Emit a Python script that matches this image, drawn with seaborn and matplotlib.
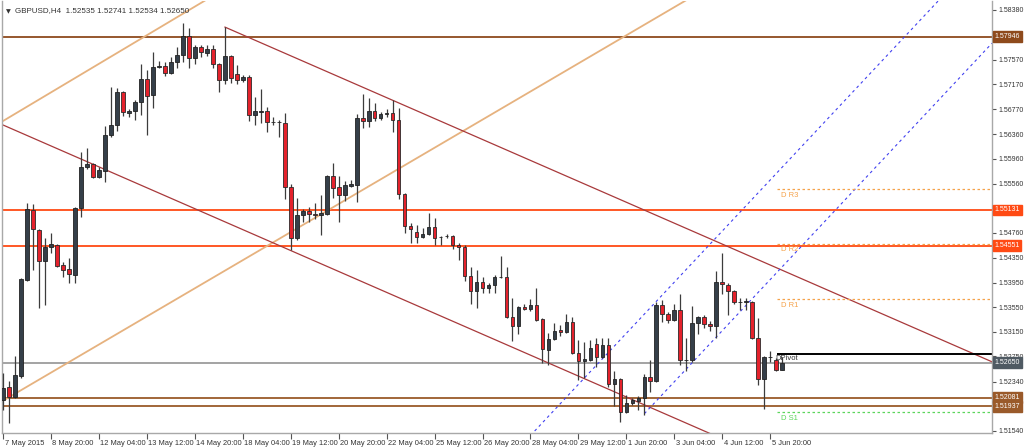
import numpy as np
import matplotlib
matplotlib.use("Agg")
import matplotlib.pyplot as plt
import matplotlib.transforms as mtrans
import seaborn as sns

# ---------------- data ----------------
opens = [1.52042, 1.52253, 1.52091, 1.52432, 1.53992, 1.55130, 1.54805, 1.54301, 1.54528, 1.54561,
         1.54236, 1.54171, 1.54073, 1.55162, 1.55828, 1.55877, 1.55666, 1.55763, 1.56348, 1.56511,
         1.57047, 1.56706, 1.56738, 1.56885, 1.57258, 1.56998, 1.57453, 1.57470, 1.57356, 1.57535,
         1.57648, 1.57957, 1.57600, 1.57778, 1.57681, 1.57746, 1.57502, 1.57242, 1.57632, 1.57340,
         1.57242, 1.57291, 1.56673, 1.56730, 1.56738, 1.56560, 1.56552, 1.56543, 1.55503, 1.54675,
         1.55048, 1.55113, 1.55065, 1.55048, 1.55065, 1.55682, 1.55503, 1.55373, 1.55520, 1.55536,
         1.56625, 1.56576, 1.56738, 1.56625, 1.56690, 1.56706, 1.56592, 1.55390, 1.54870, 1.54772,
         1.54691, 1.54740, 1.54853, 1.54691, 1.54700, 1.54707, 1.54561, 1.54528, 1.54057, 1.53813,
         1.53960, 1.53862, 1.53911, 1.54041, 1.54041, 1.53391, 1.53245, 1.53553, 1.53521, 1.53586,
         1.53358, 1.52855, 1.53033, 1.53180, 1.53147, 1.53310, 1.52806, 1.52676, 1.52692, 1.52952,
         1.52741, 1.52936, 1.52302, 1.52383, 1.51847, 1.51993, 1.52026, 1.52075, 1.52416, 1.52351,
         1.53586, 1.53440, 1.53342, 1.53505, 1.52692, 1.52692, 1.53293, 1.53391, 1.53277, 1.53245,
         1.53960, 1.53911, 1.53813, 1.53627, 1.53630, 1.53635, 1.53050, 1.52383, 1.52741, 1.52692,
         1.52535]
highs = [1.52481, 1.52351, 1.52757, 1.54025, 1.55243, 1.55227, 1.54821, 1.54675, 1.54756, 1.54577,
         1.54285, 1.54350, 1.55178, 1.56072, 1.56137, 1.55893, 1.55828, 1.56495, 1.57128, 1.57112,
         1.57063, 1.56771, 1.56917, 1.57502, 1.57405, 1.57697, 1.57551, 1.57535, 1.57616, 1.57778,
         1.58168, 1.58087, 1.57811, 1.57811, 1.57811, 1.57811, 1.57518, 1.58103, 1.57648, 1.57486,
         1.57323, 1.57323, 1.56966, 1.57096, 1.56803, 1.56641, 1.56592, 1.56706, 1.55552, 1.55325,
         1.55146, 1.55178, 1.55243, 1.55373, 1.55698, 1.55893, 1.55682, 1.55601, 1.55617, 1.56690,
         1.57015, 1.56950, 1.56868, 1.56722, 1.56771, 1.56917, 1.56787, 1.55406, 1.54918, 1.54886,
         1.54837, 1.55081, 1.54999, 1.54707, 1.54740, 1.54723, 1.54593, 1.54561, 1.54203, 1.54155,
         1.54041, 1.53943, 1.54073, 1.54382, 1.54203, 1.53700, 1.53570, 1.53602, 1.53683, 1.53862,
         1.53375, 1.53131, 1.53293, 1.53261, 1.53440, 1.53391, 1.53017, 1.52985, 1.53017, 1.53050,
         1.53050, 1.53050, 1.52513, 1.52400, 1.52123, 1.52075, 1.52107, 1.52465, 1.52692, 1.53635,
         1.53667, 1.53472, 1.53602, 1.53765, 1.53050, 1.53570, 1.53407, 1.53423, 1.53326, 1.54138,
         1.54431, 1.53943, 1.53830, 1.53700, 1.53700, 1.53651, 1.53375, 1.52757, 1.52838, 1.52725,
         1.52741]
lows = [1.51880, 1.51668, 1.52075, 1.52400, 1.53976, 1.54155, 1.53537, 1.53586, 1.54431, 1.54203,
        1.54041, 1.53943, 1.53943, 1.55016, 1.55796, 1.55650, 1.55650, 1.55585, 1.56316, 1.56413,
        1.56657, 1.56641, 1.56592, 1.56673, 1.56348, 1.56787, 1.57437, 1.57307, 1.57340, 1.57437,
        1.57535, 1.57437, 1.57502, 1.57616, 1.57632, 1.57437, 1.57047, 1.57177, 1.57193, 1.57177,
        1.57210, 1.56576, 1.56511, 1.56543, 1.56397, 1.56511, 1.56316, 1.55308, 1.54480, 1.54642,
        1.54935, 1.54935, 1.54983, 1.54723, 1.55048, 1.55325, 1.54935, 1.55276, 1.55503, 1.55260,
        1.56462, 1.56478, 1.56576, 1.56592, 1.56641, 1.56397, 1.55308, 1.54756, 1.54593, 1.54593,
        1.54675, 1.54723, 1.54561, 1.54561, 1.54675, 1.54496, 1.54317, 1.53976, 1.53602, 1.53537,
        1.53781, 1.53781, 1.53781, 1.54025, 1.53375, 1.53001, 1.53115, 1.53505, 1.53488, 1.53326,
        1.52643, 1.52611, 1.53017, 1.53082, 1.53131, 1.52790, 1.52367, 1.52400, 1.52676, 1.52578,
        1.52725, 1.52253, 1.51945, 1.51685, 1.51831, 1.51961, 1.51880, 1.51798, 1.52172, 1.52335,
        1.53310, 1.53293, 1.53326, 1.52611, 1.52513, 1.52660, 1.53115, 1.53212, 1.53163, 1.53050,
        1.53765, 1.53423, 1.53602, 1.53505, 1.53505, 1.53033, 1.52286, 1.51896, 1.52660, 1.52513,
        1.52534]
closes = [1.52237, 1.52091, 1.52448, 1.54008, 1.55146, 1.54821, 1.54301, 1.54528, 1.54577, 1.54220,
          1.54155, 1.54090, 1.55162, 1.55828, 1.55877, 1.55666, 1.55780, 1.56348, 1.56511, 1.57047,
          1.56722, 1.56738, 1.56885, 1.57258, 1.56982, 1.57453, 1.57470, 1.57356, 1.57535, 1.57648,
          1.57957, 1.57600, 1.57778, 1.57697, 1.57746, 1.57502, 1.57242, 1.57632, 1.57275, 1.57242,
          1.57291, 1.56673, 1.56738, 1.56738, 1.56560, 1.56552, 1.56565, 1.55503, 1.54675, 1.55048,
          1.55113, 1.55065, 1.55048, 1.55081, 1.55682, 1.55487, 1.55373, 1.55536, 1.55552, 1.56625,
          1.56576, 1.56738, 1.56625, 1.56690, 1.56706, 1.56592, 1.55390, 1.54870, 1.54821, 1.54691,
          1.54740, 1.54853, 1.54675, 1.54683, 1.54707, 1.54561, 1.54528, 1.54057, 1.53813, 1.53960,
          1.53862, 1.53911, 1.54041, 1.54049, 1.53391, 1.53245, 1.53553, 1.53521, 1.53586, 1.53342,
          1.52871, 1.53033, 1.53163, 1.53147, 1.53310, 1.52806, 1.52676, 1.52708, 1.52887, 1.52741,
          1.52936, 1.52302, 1.52383, 1.51847, 1.51993, 1.52042, 1.52075, 1.52416, 1.52351, 1.53586,
          1.53440, 1.53342, 1.53505, 1.52692, 1.52700, 1.53293, 1.53391, 1.53277, 1.53245, 1.53960,
          1.53927, 1.53813, 1.53635, 1.53640, 1.53643, 1.53050, 1.52383, 1.52741, 1.52749, 1.52530,
          1.52650]

x_tick_labels = ["7 May 2015", "8 May 20:00", "12 May 04:00", "13 May 12:00", "14 May 20:00",
                 "18 May 04:00", "19 May 12:00", "20 May 20:00", "22 May 04:00", "25 May 12:00",
                 "26 May 20:00", "28 May 04:00", "29 May 12:00", "1 Jun 20:00", "3 Jun 04:00",
                 "4 Jun 12:00", "5 Jun 20:00"]
y_tick_values = [1.58380, 1.57570, 1.57170, 1.56770, 1.56360, 1.55960, 1.55560, 1.54760,
                 1.54350, 1.53950, 1.53550, 1.53150, 1.52750, 1.52340, 1.51540]

level_values = [1.57946, 1.55131, 1.54551, 1.52081, 1.51937]
level_colors = ["#8E4A1C", "#FF4A14", "#FF4A14", "#9A5A2A", "#9A5A2A"]
current_price = 1.52650
pivot_price = 1.52790
pivot_names = ["D R3", "D R2", "D R1", "D S1"]
pivot_values = [1.55471, 1.54585, 1.53684, 1.51847]
pivot_colors = ["#F5A24A", "#F5A24A", "#F5A24A", "#5CD65C"]

# trend lines: (bar index, price) pairs
tan_lower = ([0, 114], [1.52030, 1.58540])
tan_upper = ([0, 34], [1.56576, 1.58551])
red_upper = ([37, 165], [1.58103, 1.52663])
red_lower = ([0, 120], [1.56511, 1.51411])
blue_upper = ([88, 158], [1.51466, 1.58732])
blue_lower = ([107, 165], [1.51820, 1.57840])

title = "GBPUSD,H4  1.52535 1.52741 1.52534 1.52650"

# ---------------- style ----------------
sns.set_theme(style="white")
plt.rcParams["font.family"] = ["Liberation Sans", "DejaVu Sans"]

W, H = 1024, 447
fig = plt.figure(figsize=(W / 100, H / 100), dpi=100)
fig.patch.set_facecolor("white")
ax = fig.add_axes([2 / W, (H - 433) / H, 990 / W, 432 / H])
ax.set_facecolor("white")

ax.set_xlim(-0.17, 165)
ax.set_ylim(1.51506, 1.58526)

# horizontal levels
ax.axhline(current_price, color="#9C9C9C", lw=1.3, zorder=1)
for v, col in zip(level_values, level_colors):
    ax.axhline(v, color=col, lw=1.3, zorder=1)

# trend lines via seaborn
def tline(pts, color, lw, ls="-"):
    sns.lineplot(x=pts[0], y=pts[1], ax=ax, color=color, lw=lw, linestyle=ls, zorder=2)

tline(tan_lower, "#E6B27F", 1.3)
tline(tan_upper, "#E6B27F", 1.3)
tline(red_upper, "#A8393B", 0.9)
tline(red_lower, "#A8393B", 0.9)
tline(blue_upper, "#4040F0", 0.8, (0, (2.5, 3)))
tline(blue_lower, "#4040F0", 0.8, (0, (2.5, 3)))

# pivot lines
ax.hlines(pivot_price, 129.2, 166, color="black", lw=1.4, zorder=2)
ax.text(128.9, pivot_price - 0.0008, "DPivot", fontsize=5.5, color="#333333",
        va="center", ha="left", zorder=6)
for name, v, col in zip(pivot_names, pivot_values, pivot_colors):
    ax.hlines(v, 129.2, 166, color=col, lw=0.9, linestyles=(0, (2, 2)), zorder=2)
    ax.text(129.8, v - 0.0010, name, fontsize=5.5, color=col, va="center", ha="left", zorder=6)

# candles
o = np.array(opens); h = np.array(highs); l = np.array(lows); c = np.array(closes)
idx = np.arange(len(o))
bull = c >= o
bottom = np.minimum(o, c)
height = np.maximum(np.abs(c - o), 0.00003)
ax.vlines(idx, l, h, color="#3C3C3C", lw=0.9, zorder=3)
ax.bar(idx[bull], height[bull], bottom=bottom[bull], width=0.62, color="#353F49",
       edgecolor="#222222", lw=0.6, zorder=4)
ax.bar(idx[~bull], height[~bull], bottom=bottom[~bull], width=0.62, color="#E4222C",
       edgecolor="#2A2A2A", lw=0.6, zorder=4)

# axes decoration
for s in ["left", "right", "bottom"]:
    ax.spines[s].set_color("#A8A8A8")
    ax.spines[s].set_linewidth(1.0)
ax.spines["top"].set_visible(False)
ax.grid(False)

ax.yaxis.tick_right()
ax.set_yticks(y_tick_values)
ax.set_yticklabels([f"{v:.5f}" for v in y_tick_values])
ax.tick_params(axis="y", which="both", direction="out", length=3, width=0.8,
               color="#555555", labelsize=5.0, labelcolor="#333333", pad=1.5, right=True, left=False)

ax.set_xticks(np.arange(0, 8 * len(x_tick_labels), 8))
ax.set_xticklabels(x_tick_labels)
ax.tick_params(axis="x", direction="out", length=4, width=0.8, color="#555555",
               labelsize=5.4, labelcolor="#333333", pad=1, bottom=True)
for lab in ax.get_xticklabels():
    lab.set_ha("left")
    lab.set_transform(lab.get_transform() + mtrans.ScaledTranslation(1.5 / 100, 0, fig.dpi_scale_trans))

# right axis price boxes
btr = mtrans.blended_transform_factory(ax.transAxes, ax.transData)
box_vals = level_values + [current_price]
box_cols = level_colors + ["#4F5A63"]
for v, col in zip(box_vals, box_cols):
    ax.text(1.0025, v, f"{v:.5f}", transform=btr, fontsize=5.0, color="white",
            ha="left", va="center", clip_on=False, zorder=20,
            bbox=dict(boxstyle="square,pad=0.25", fc=col, ec=col))

# title
ax.text(0.004, 0.982, "\u25BC", transform=ax.transAxes, fontsize=4.5, color="#333333",
        va="top", ha="left", family=["DejaVu Sans"])
ax.text(0.013, 0.985, title, transform=ax.transAxes, fontsize=5.8, color="#333333",
        va="top", ha="left")

ax.set_xlabel("")
ax.set_ylabel("")
fig.savefig("out.png", dpi=100, facecolor="white")
